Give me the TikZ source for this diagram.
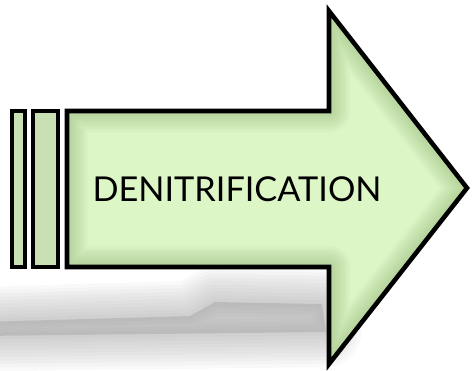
\documentclass[tikz,border=0pt]{standalone}
\usepackage{fontspec}
\setmainfont{Lato}
\definecolor{arrowfill}{RGB}{221,246,198}
\definecolor{arrowrim}{RGB}{128,165,100}
\definecolor{barfill}{RGB}{200,224,180}
\definecolor{shadowgray}{RGB}{140,140,140}
\tikzset{
  outline/.style={draw=black, line width=2.6pt, line join=miter},
  rim/.style={draw=arrowrim, line join=round},
}
\begin{document}
\begin{tikzpicture}[x=0.02cm, y=-0.02cm]
    \useasboundingbox (0,0) rectangle (472,370);

    % corners of the arrow
    \coordinate (TL) at (67,111);
    \coordinate (HT) at (329,111);
    \coordinate (HU) at (329,11);
    \coordinate (TIP) at (467,188);
    \coordinate (HD) at (329,364);
    \coordinate (HB) at (329,267);
    \coordinate (BL) at (67,267);

    % soft shadow under the arrow
    \foreach \w in {40,36,...,4}
        \draw[shadowgray, opacity=0.05, line width=\w, line join=round]
            (-20,322) -- (190,316) -- (215,302) -- (322,304) -- (326,332) -- (-20,336) -- cycle;
    \fill[shadowgray, opacity=0.3]
        (-20,322) -- (190,316) -- (215,302) -- (322,304) -- (326,332) -- (-20,336) -- cycle;

    % arrow body and head
    \fill[arrowfill] (TL)--(HT)--(HU)--(TIP)--(HD)--(HB)--(BL)--cycle;
    \begin{scope}
        \clip (TL)--(HT)--(HU)--(TIP)--(HD)--(HB)--(BL)--cycle;
        \foreach \w in {24,21,...,3}
            \draw[rim, line width=\w, opacity=0.06]
                (TL)--(HT)--(HU)--(TIP)--(HD)--(HB)--(BL)--cycle;
    \end{scope}
    \draw[outline] (TL)--(HT)--(HU)--(TIP)--(HD)--(HB)--(BL)--cycle;

    % the two bars at the tail
    \draw[outline, fill=barfill] (12,111) rectangle (25,267);
    \draw[outline, fill=barfill] (33,111) rectangle (58,267);

    \node[font=\fontsize{19.5}{22}\selectfont, inner sep=0pt] (label) at (237,189)
        {DENITRIFICATION};
\end{tikzpicture}
\end{document}
